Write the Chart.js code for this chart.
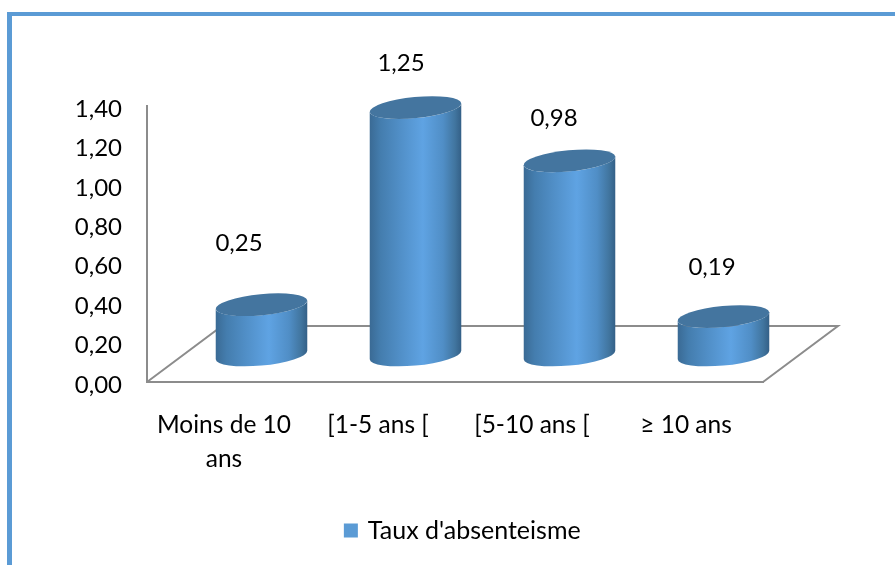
<!DOCTYPE html>
<html>
<head>
<meta charset="utf-8">
<title>Taux d'absenteisme</title>
<script src="https://cdn.jsdelivr.net/npm/chart.js@4"></script>
<style>
  html, body { margin: 0; padding: 0; background: #fff; }
  #frame {
    position: absolute; left: 7px; top: 12px; right: 0; bottom: 0;
    border-top: 4px solid #5b9bd5; border-left: 5px solid #5b9bd5;
  }
  #graph { position: absolute; left: 0; top: 0; }
</style>
</head>
<body>
<div id="frame"></div>
<canvas id="graph" width="895" height="565"></canvas>
<script>
const categories = [['Moins de 10', 'ans'], '[1-5 ans [', '[5-10 ans [', '≥ 10 ans'];
const valeurs = [0.25, 1.25, 0.98, 0.19];
const yTickLabels = ['0,00', '0,20', '0,40', '0,60', '0,80', '1,00', '1,20', '1,40'];
const serie = "Taux d'absenteisme";

const police = '"Lato", "Liberation Sans", sans-serif';
const gris = '#8c8c8c';
const depthX = 75, depthY = 56;       // profondeur du sol
const tilt = -5.5 * Math.PI / 180;    // inclinaison des ellipses
const decalages = [[15, -89], [23, -72], [22, -71], [26, -77]]; // etiquettes placees a la main

function drawCylinder(ctx, bar) {
  const rx = bar.width / 2, ry = 10.5;
  const cx = bar.x + depthX / 2;
  const bottom = bar.base - depthY / 2 + 1;
  const top = bar.y - depthY / 2;
  const t0 = Math.atan(-(ry / rx) * Math.tan(tilt));

  const grad = ctx.createLinearGradient(cx - rx, 0, cx + rx, 0);
  grad.addColorStop(0, '#3a6a94');
  grad.addColorStop(0.12, '#447dae');
  grad.addColorStop(0.32, '#508ec6');
  grad.addColorStop(0.58, '#5fa3e3');
  grad.addColorStop(0.8, '#508ec6');
  grad.addColorStop(0.93, '#41759f');
  grad.addColorStop(1, '#335f86');

  ctx.beginPath();
  ctx.ellipse(cx, bottom, rx, ry, tilt, t0, t0 + Math.PI);
  ctx.ellipse(cx, top, rx, ry, tilt, t0 + Math.PI, t0, true);
  ctx.closePath();
  ctx.fillStyle = grad;
  ctx.fill();

  ctx.beginPath();
  ctx.ellipse(cx, top, rx, ry, tilt, 0, 2 * Math.PI);
  ctx.fillStyle = '#44759f';
  ctx.fill();
}

const cylindres = {
  id: 'cylindres',
  afterLayout(chart) {
    // la legende est centree sous le graphique et non sur toute la largeur
    chart.legend.left += 82;
    chart.legend.right += 82;
  },
  beforeDatasetsDraw(chart) {
    const {ctx, chartArea: a} = chart;
    ctx.save();
    ctx.strokeStyle = gris;
    ctx.lineWidth = 2;
    ctx.beginPath();
    ctx.moveTo(a.left, a.bottom);
    ctx.lineTo(a.left + depthX, a.bottom - depthY);
    ctx.lineTo(a.right + depthX, a.bottom - depthY);
    ctx.lineTo(a.right, a.bottom);
    ctx.stroke();
    ctx.restore();
  },
  beforeDatasetDraw(chart, args) {
    const ctx = chart.ctx;
    const bars = args.meta.data;
    ctx.save();
    bars.forEach(bar => drawCylinder(ctx, bar));
    ctx.fillStyle = '#000';
    ctx.font = '24px ' + police;
    ctx.textAlign = 'center';
    ctx.textBaseline = 'middle';
    bars.forEach((bar, i) => {
      const texte = valeurs[i].toFixed(2).replace('.', ',');
      ctx.fillText(texte, bar.x + decalages[i][0], bar.y + decalages[i][1]);
    });
    ctx.restore();
    return false;
  }
};

new Chart(document.getElementById('graph'), {
  type: 'bar',
  data: {
    labels: categories,
    datasets: [{
      label: serie,
      data: valeurs,
      backgroundColor: '#5b9bd5',
      borderColor: '#5b9bd5',
      borderWidth: 5,
      barPercentage: 0.597,
      categoryPercentage: 1
    }]
  },
  options: {
    responsive: false,
    animation: false,
    layout: { padding: { top: 106, right: 132, bottom: 12, left: 0 } },
    plugins: {
      tooltip: { enabled: false },
      legend: {
        position: 'bottom',
        labels: {
          boxWidth: 9, boxHeight: 9, color: '#000',
          font: { family: police, size: 25 }
        }
      }
    },
    scales: {
      x: {
        grid: { display: false, drawTicks: false },
        border: { color: gris, width: 2 },
        afterFit(scale) { scale.height = 126; },
        ticks: {
          color: '#000', padding: 26, maxRotation: 0, autoSkip: false,
          font: { family: police, size: 24.5, lineHeight: 1.4 }
        }
      },
      y: {
        min: 0, max: 1.4,
        grid: { display: false, drawTicks: false },
        border: { color: gris, width: 2 },
        afterFit(scale) { scale.width = 147; },
        ticks: {
          stepSize: 0.2, color: '#000', padding: 25, labelOffset: 3,
          font: { family: police, size: 24 },
          callback: (v, i) => yTickLabels[i]
        }
      }
    }
  },
  plugins: [cylindres]
});
</script>
</body>
</html>
